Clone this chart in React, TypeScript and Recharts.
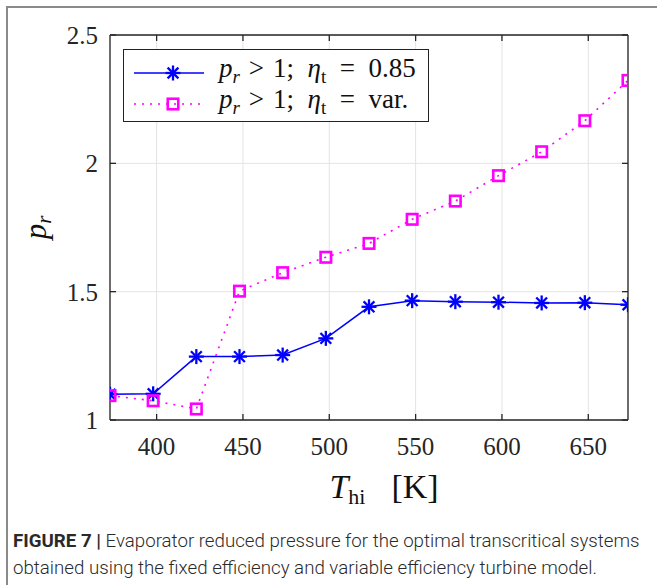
import React from 'react';
import { LineChart, Line, XAxis, YAxis, CartesianGrid, Legend, Label } from 'recharts';

const temps = [373, 398, 423, 448, 473, 498, 523, 548, 573, 598, 623, 648, 673];
const prFixed = [1.1, 1.102, 1.247, 1.247, 1.253, 1.318, 1.441, 1.465, 1.461, 1.459, 1.456, 1.457, 1.449];
const prVar = [1.095, 1.075, 1.043, 1.502, 1.574, 1.634, 1.688, 1.782, 1.853, 1.952, 2.045, 2.166, 2.323];
const xTicks = [400, 450, 500, 550, 600, 650];
const yTicks = [1, 1.5, 2, 2.5];
const xLabelMain = 'T';
const xLabelSub = 'hi';
const xLabelUnit = '[K]';
const seriesNames = ['fixed', 'var'];
const legendValues = ['0.85', 'var.'];

const rows = temps.map((t, i) => ({ t, fixed: prFixed[i], var: prVar[i] }));

const BLUE = '#0000ff';
const MAGENTA = '#ff00ff';
const AXIS = '#262626';
const SERIF = '"Liberation Serif", "Times New Roman", serif';

const Star = (props: any) => {
  const { cx, cy } = props;
  if (cx == null || cy == null) return null;
  const r = 7.5;
  const d = r * 0.72;
  return (
    <g stroke={BLUE} strokeWidth={2.3} strokeLinecap="butt">
      <line x1={cx - r} y1={cy} x2={cx + r} y2={cy} />
      <line x1={cx} y1={cy - r} x2={cx} y2={cy + r} />
      <line x1={cx - d} y1={cy - d} x2={cx + d} y2={cy + d} />
      <line x1={cx - d} y1={cy + d} x2={cx + d} y2={cy - d} />
    </g>
  );
};

const Square = (props: any) => {
  const { cx, cy } = props;
  if (cx == null || cy == null) return null;
  const s = 10.5;
  return <rect x={cx - s / 2} y={cy - s / 2} width={s} height={s} fill="none" stroke={MAGENTA} strokeWidth={2.6} />;
};

const LegendSample = ({ kind }: { kind: string }) => (
  <svg width={80} height={24} style={{ display: 'block' }}>
    {kind === 'fixed' ? (
      <>
        <line x1={0} y1={12} x2={70} y2={12} stroke={BLUE} strokeWidth={1.5} />
        <Star cx={39} cy={12} />
      </>
    ) : (
      <>
        <line x1={0} y1={12} x2={70} y2={12} stroke={MAGENTA} strokeWidth={1.6} strokeDasharray="2 6" />
        <Square cx={39} cy={12} />
      </>
    )}
  </svg>
);

const LegendBox = (props: any) => {
  const payload = (props.payload || []).filter((p: any) => seriesNames.includes(p.dataKey));
  return (
    <div
      style={{
        boxSizing: 'border-box',
        width: 306,
        height: 73,
        border: '1.3px solid #222',
        background: '#fff',
        padding: '7px 0 0 10px',
        fontFamily: SERIF,
        fontSize: 27,
        color: '#111',
      }}
    >
      {payload.map((p: any, i: number) => (
        <div key={p.dataKey} style={{ display: 'flex', alignItems: 'center', height: 31 }}>
          <LegendSample kind={p.dataKey} />
          <span style={{ marginLeft: 5, whiteSpace: 'nowrap', lineHeight: '27px' }}>
            <i>p</i>
            <sub style={{ fontSize: '0.7em', verticalAlign: '-0.3em', fontStyle: 'italic' }}>r</sub>
            {'\u2004>\u20041;\u00a0\u00a0'}
            <i>η</i>
            <sub style={{ fontSize: '0.7em', verticalAlign: '-0.3em' }}>t</sub>
            {'\u2002=\u2002' + legendValues[i]}
          </span>
        </div>
      ))}
    </div>
  );
};

export default function App() {
  return (
    <div style={{ position: 'absolute', left: 0, top: 0, width: 657, height: 585, background: '#fff', overflow: 'hidden' }}>
      <div style={{ position: 'absolute', left: 6, top: 6, width: 651, height: 1.5, background: '#8a8a8a' }} />
      <div style={{ position: 'absolute', left: 6, top: 6, width: 1.5, height: 579, background: '#8a8a8a' }} />
      <LineChart width={657} height={585} data={rows} margin={{ top: 34, right: 28, bottom: 125, left: 50 }}>
        <CartesianGrid stroke="#e3e3e3" strokeWidth={1} />
        <XAxis
          dataKey="t"
          type="number"
          domain={[373, 673]}
          ticks={xTicks}
          height={40}
          allowDataOverflow
          axisLine={{ stroke: AXIS, strokeWidth: 1.3 }}
          tickLine={{ stroke: AXIS, strokeWidth: 1.3 }}
          tickSize={-6}
          tickMargin={23}
          tick={{ fontFamily: SERIF, fontSize: 25, fill: AXIS }}
        >
          <Label
            content={(p: any) => {
              const vb = p.viewBox || {};
              const cx = vb.x + vb.width / 2;
              return (
                <text x={cx + 15} y={498} textAnchor="middle" fontFamily={SERIF} fontSize={34} fill="#111">
                  <tspan fontStyle="italic">{xLabelMain}</tspan>
                  <tspan fontSize={22} dy={6}>{xLabelSub}</tspan>
                  <tspan dy={-6} dx={26}>{xLabelUnit}</tspan>
                </text>
              );
            }}
          />
        </XAxis>
        <XAxis
          xAxisId="top"
          orientation="top"
          dataKey="t"
          type="number"
          domain={[373, 673]}
          ticks={xTicks}
          height={1}
          allowDataOverflow
          axisLine={{ stroke: AXIS, strokeWidth: 1.3 }}
          tickLine={{ stroke: AXIS, strokeWidth: 1.3 }}
          tickSize={-6}
          tickFormatter={() => ''}
        />
        <YAxis
          type="number"
          domain={[1, 2.5]}
          ticks={yTicks}
          width={60}
          allowDataOverflow
          axisLine={{ stroke: AXIS, strokeWidth: 1.3 }}
          tickLine={{ stroke: AXIS, strokeWidth: 1.3 }}
          tickSize={-6}
          tickMargin={18}
          tick={{ fontFamily: SERIF, fontSize: 25, fill: AXIS }}
        >
          <Label
            content={(p: any) => {
              const vb = p.viewBox || {};
              const cy = vb.y + vb.height / 2;
              return (
                <text x={0} y={0} transform={`translate(46, ${cy}) rotate(-90)`} textAnchor="middle" fontFamily={SERIF} fontSize={31} fill="#111">
                  <tspan fontStyle="italic">p</tspan>
                  <tspan fontStyle="italic" fontSize={21} dy={5}>r</tspan>
                </text>
              );
            }}
          />
        </YAxis>
        <YAxis
          yAxisId="right"
          orientation="right"
          type="number"
          domain={[1, 2.5]}
          ticks={yTicks}
          width={1}
          allowDataOverflow
          axisLine={{ stroke: AXIS, strokeWidth: 1.3 }}
          tickLine={{ stroke: AXIS, strokeWidth: 1.3 }}
          tickSize={-6}
          tickFormatter={() => ''}
        />
        <Line
          dataKey="fixed"
          stroke={BLUE}
          strokeWidth={1.5}
          isAnimationActive={false}
          type="linear"
          dot={<Star />}
          activeDot={false}
        />
        <Line
          dataKey="var"
          stroke={MAGENTA}
          strokeWidth={1.6}
          strokeDasharray="2 6"
          isAnimationActive={false}
          type="linear"
          dot={<Square />}
          activeDot={false}
        />
        <Legend
          layout="horizontal"
          verticalAlign="middle"
          align="center"
          wrapperStyle={{ left: 123, top: 49, width: 306, height: 73 }}
          content={<LegendBox />}
        />
      </LineChart>
      <div
        style={{
          position: 'absolute',
          left: 13,
          top: 528,
          width: 644,
          fontFamily: 'Roboto, "Liberation Sans", sans-serif',
          fontWeight: 300,
          fontSize: 18.7,
          lineHeight: '27px',
          color: '#2a2a2a',
          whiteSpace: 'nowrap',
        }}
      >
        <span style={{ fontWeight: 700 }}>FIGURE 7 |</span> Evaporator reduced pressure for the optimal transcritical systems
        <br />
        obtained using the fixed efficiency and variable efficiency turbine model.
      </div>
    </div>
  );
}
